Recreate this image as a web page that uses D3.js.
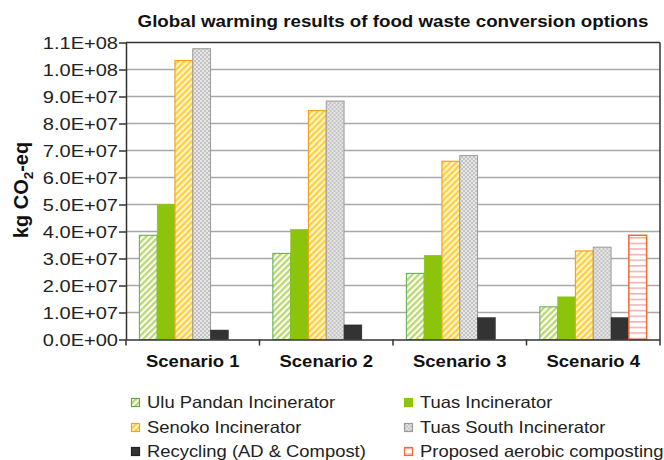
<!DOCTYPE html>
<html>
<head>
<meta charset="utf-8">
<script src="https://cdn.jsdelivr.net/npm/d3@7"></script>
<style>
  html, body { margin: 0; padding: 0; background: #fff; }
  svg { display: block; font-family: "Liberation Sans", Arial, sans-serif; }
</style>
</head>
<body>
<svg id="chart" width="664" height="460"></svg>
<script>
// Global warming potential (kg CO2-eq) per scenario and conversion option
const scenarios = ["Scenario 1", "Scenario 2", "Scenario 3", "Scenario 4"];
const seriesNames = [
  "Ulu Pandan Incinerator",
  "Tuas Incinerator",
  "Senoko Incinerator",
  "Tuas South Incinerator",
  "Recycling (AD & Compost)",
  "Proposed aerobic composting"
];
const uluPandan  = [3.86e7, 3.19e7, 2.45e7, 1.21e7];
const tuas       = [5.00e7, 4.08e7, 3.12e7, 1.58e7];
const senoko     = [10.33e7, 8.48e7, 6.60e7, 3.28e7];
const tuasSouth  = [10.77e7, 8.83e7, 6.81e7, 3.42e7];
const recycling  = [0.35e7, 0.54e7, 0.81e7, 0.81e7];
const composting = [0, 0, 0, 3.86e7];
const yTicks = [0, 1e7, 2e7, 3e7, 4e7, 5e7, 6e7, 7e7, 8e7, 9e7, 1e8, 1.1e8];

const seriesValues = [uluPandan, tuas, senoko, tuasSouth, recycling, composting];

const svg = d3.select("#chart");
const defs = svg.append("defs");

// Fill patterns
function diagPattern(id, stripe, bg) {
  const p = defs.append("pattern").attr("id", id)
    .attr("patternUnits", "userSpaceOnUse")
    .attr("width", 4.4).attr("height", 4.4)
    .attr("patternTransform", "rotate(45)");
  p.append("rect").attr("width", 4.4).attr("height", 4.4).attr("fill", bg);
  p.append("rect").attr("width", 2.3).attr("height", 4.4).attr("fill", stripe);
}
diagPattern("p-ulu", "#b8da6c", "#ffffff");
diagPattern("p-senoko", "#ffd03c", "#fff6d6");

const chk = defs.append("pattern").attr("id", "p-tuassouth")
  .attr("patternUnits", "userSpaceOnUse").attr("width", 4).attr("height", 4);
chk.append("rect").attr("width", 4).attr("height", 4).attr("fill", "#e6e6e6");
chk.append("rect").attr("width", 2).attr("height", 2).attr("fill", "#c4c4c4");
chk.append("rect").attr("x", 2).attr("y", 2).attr("width", 2).attr("height", 2).attr("fill", "#c4c4c4");

const hz = defs.append("pattern").attr("id", "p-compost")
  .attr("patternUnits", "userSpaceOnUse").attr("width", 6).attr("height", 5.6);
hz.append("rect").attr("width", 6).attr("height", 5.6).attr("fill", "#ffffff");
hz.append("rect").attr("y", 2).attr("width", 6).attr("height", 1.3).attr("fill", "#f3a0a0");

const seriesStyle = [
  { fill: "url(#p-ulu)",       stroke: "#5fa84e", sw: 1 },
  { fill: "#8cc40c",           stroke: "#8cc40c", sw: 0.5 },
  { fill: "url(#p-senoko)",    stroke: "#f2a31c", sw: 1.2 },
  { fill: "url(#p-tuassouth)", stroke: "#9a9a9a", sw: 1 },
  { fill: "#333333",           stroke: "#222222", sw: 0.5 },
  { fill: "url(#p-compost)",   stroke: "#f06a32", sw: 1.5 }
];

// Scales
const x0 = d3.scaleBand().domain(scenarios).range([126, 660]).paddingInner(0).paddingOuter(0);
const x1 = d3.scaleBand().domain(d3.range(seriesNames.length))
  .range([0, x0.bandwidth()]).paddingInner(0).paddingOuter(0.75);
const y = d3.scaleLinear().domain([0, 1.1e8]).range([339.5, 42.5]);

const sci = d => {
  const [m, e] = d.toExponential(1).split("e");
  return m + "E" + e[0] + e.slice(1).padStart(2, "0");
};

// Gridlines
svg.append("g").selectAll("line")
  .data(yTicks.filter(t => t > 0 && t < 1.1e8))
  .join("line")
  .attr("x1", 126).attr("x2", 660)
  .attr("y1", d => y(d)).attr("y2", d => y(d))
  .attr("stroke", "#a9a9a9").attr("stroke-width", 1.4);

// Bars
const groups = svg.append("g").selectAll("g")
  .data(scenarios)
  .join("g")
  .attr("transform", d => `translate(${x0(d)},0)`);

groups.selectAll("rect")
  .data((s, si) => seriesValues.map((vals, k) => ({ k, v: vals[si] })).filter(d => d.v > 0))
  .join("rect")
  .attr("x", d => x1(d.k))
  .attr("width", x1.bandwidth())
  .attr("y", d => y(d.v))
  .attr("height", d => y(0) - y(d.v))
  .attr("fill", d => seriesStyle[d.k].fill)
  .attr("stroke", d => seriesStyle[d.k].stroke)
  .attr("stroke-width", d => seriesStyle[d.k].sw);

// Plot frame: top and right borders
svg.append("line").attr("x1", 126).attr("x2", 660).attr("y1", y(1.1e8)).attr("y2", y(1.1e8))
  .attr("stroke", "#333").attr("stroke-width", 1.5);
svg.append("line").attr("x1", 660).attr("x2", 660).attr("y1", y(1.1e8)).attr("y2", y(0))
  .attr("stroke", "#333").attr("stroke-width", 1.5);

// Y axis
const yAxis = svg.append("g").attr("transform", "translate(126,0)")
  .call(d3.axisLeft(y).tickValues(yTicks).tickFormat(sci).tickSize(7).tickSizeOuter(0));
yAxis.select(".domain").attr("stroke", "#333").attr("stroke-width", 1.5);
yAxis.selectAll(".tick line").attr("stroke", "#333").attr("stroke-width", 1.5);
yAxis.selectAll(".tick text")
  .attr("font-size", 16.3).attr("fill", "#222")
  .attr("font-family", "Liberation Sans, Arial, sans-serif")
  .attr("x", -8 / 1.23).attr("dy", "0.36em")
  .attr("transform", "scale(1.23,1)");

// X axis
const xAxis = svg.append("g").attr("transform", `translate(0,${y(0)})`)
  .call(d3.axisBottom(x0).tickSize(0).tickPadding(0));
xAxis.select(".domain").attr("stroke", "#333").attr("stroke-width", 1.5);
xAxis.selectAll(".tick text").remove();
svg.append("g").selectAll("line")
  .data(scenarios.map(s => x0(s)).concat([x0.range()[1]]))
  .join("line")
  .attr("x1", d => d).attr("x2", d => d)
  .attr("y1", y(0)).attr("y2", y(0) + 6)
  .attr("stroke", "#333").attr("stroke-width", 1.5);

svg.append("g").selectAll("text")
  .data(scenarios)
  .join("text")
  .attr("transform", d => `translate(${x0(d) + x0.bandwidth() / 2},366.5) scale(1.17,1)`)
  .attr("text-anchor", "middle")
  .attr("font-size", 15.8).attr("font-weight", "bold").attr("fill", "#111")
  .text(d => d);

// Title
svg.append("text")
  .attr("transform", "translate(393,27) scale(1.15,1)")
  .attr("text-anchor", "middle")
  .attr("font-size", 16.3).attr("font-weight", "bold").attr("fill", "#111")
  .text("Global warming results of food waste conversion options");

// Y axis title
const yt = svg.append("text")
  .attr("transform", "translate(28,190) rotate(-90)")
  .attr("text-anchor", "middle")
  .attr("font-size", 20).attr("font-weight", "bold").attr("fill", "#111");
yt.append("tspan").text("kg CO");
yt.append("tspan").attr("font-size", 13.5).attr("dy", 4.5).text("2");
yt.append("tspan").attr("dy", -4.5).text("-eq");

// Legend
const legendPos = [
  [131, 402.5], [404, 402.5],
  [131, 427.5], [404, 427.5],
  [131, 451.5], [404, 451.5]
];
const lg = svg.append("g").selectAll("g")
  .data(seriesNames)
  .join("g")
  .attr("transform", (d, i) => `translate(${legendPos[i][0]},${legendPos[i][1]})`);
lg.append("rect")
  .attr("x", 0.5).attr("y", -4).attr("width", 8).attr("height", 8)
  .attr("fill", (d, i) => seriesStyle[i].fill)
  .attr("stroke", (d, i) => seriesStyle[i].stroke)
  .attr("stroke-width", 1.2);
lg.append("text")
  .attr("transform", "translate(16,0) scale(1.13,1)")
  .attr("dy", "0.36em")
  .attr("font-size", 16.3).attr("fill", "#222")
  .text(d => d);
</script>
</body>
</html>
